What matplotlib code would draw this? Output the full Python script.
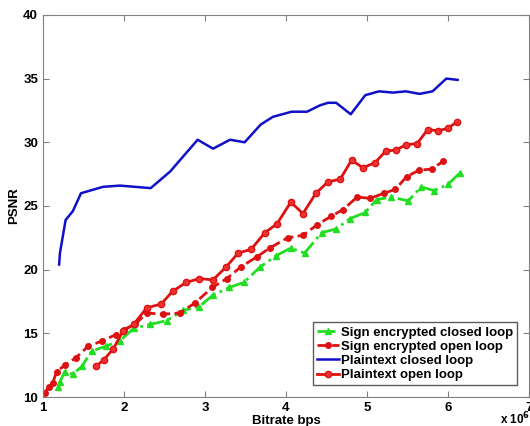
import numpy as np
from matplotlib import pyplot as plt

plt.rcParams['font.family'] = ['Liberation Sans', 'DejaVu Sans']
plt.rcParams['font.weight'] = 'bold'

# bitrate in units of 1e6 bps, PSNR in dB
enc_closed_x = [1.19, 1.21, 1.27, 1.37, 1.48, 1.60, 1.78, 1.95, 2.12, 2.32, 2.53, 2.73, 2.93, 3.10, 3.30,
                3.48, 3.68, 3.88, 4.06, 4.23, 4.44, 4.62, 4.79, 4.98, 5.12, 5.30, 5.51, 5.67, 5.83, 6.00, 6.15]
enc_closed_y = [10.8, 11.2, 12.0, 11.8, 12.4, 13.6, 14.0, 14.4, 15.4, 15.7, 16.0, 16.8, 17.1, 18.0, 18.6,
                19.0, 20.2, 21.1, 21.7, 21.3, 22.9, 23.2, 24.0, 24.5, 25.5, 25.7, 25.4, 26.5, 26.2, 26.7, 27.6]

enc_open_x = [1.02, 1.07, 1.12, 1.17, 1.27, 1.41, 1.56, 1.73, 1.90, 2.00, 2.14, 2.28, 2.48, 2.69, 2.88, 3.09,
              3.27, 3.44, 3.64, 3.80, 4.02, 4.21, 4.38, 4.56, 4.70, 4.88, 5.04, 5.21, 5.35, 5.49, 5.64, 5.80, 5.94]
enc_open_y = [10.3, 10.8, 11.1, 12.0, 12.5, 13.1, 14.0, 14.4, 14.9, 15.3, 15.7, 16.6, 16.5, 16.6, 17.4, 18.6,
              19.3, 20.2, 21.0, 21.7, 22.5, 22.7, 23.5, 24.2, 24.7, 25.7, 25.6, 26.0, 26.3, 27.3, 27.8, 27.9, 28.5]

plain_closed_x = [1.20, 1.21, 1.28, 1.37, 1.47, 1.74, 1.95, 2.33, 2.57, 2.91, 3.10, 3.31, 3.49, 3.69, 3.84,
                  4.07, 4.26, 4.42, 4.52, 4.62, 4.80, 4.98, 5.15, 5.32, 5.48, 5.65, 5.81, 5.98, 6.12]
plain_closed_y = [20.4, 21.3, 23.9, 24.6, 26.0, 26.5, 26.6, 26.4, 27.7, 30.2, 29.5, 30.2, 30.0, 31.4, 32.0,
                  32.4, 32.4, 32.9, 33.1, 33.1, 32.2, 33.7, 34.0, 33.9, 34.0, 33.8, 34.0, 35.0, 34.9]

plain_open_x = [1.65, 1.75, 1.87, 1.99, 2.12, 2.28, 2.46, 2.60, 2.77, 2.93, 3.10, 3.26, 3.41, 3.57, 3.74, 3.89,
                4.06, 4.21, 4.37, 4.52, 4.67, 4.81, 4.95, 5.10, 5.23, 5.36, 5.48, 5.62, 5.75, 5.88, 6.00, 6.11]
plain_open_y = [12.4, 12.9, 13.8, 15.2, 15.7, 17.0, 17.3, 18.3, 19.0, 19.3, 19.2, 20.2, 21.3, 21.6, 22.9, 23.6,
                25.3, 24.4, 26.0, 26.9, 27.1, 28.6, 28.0, 28.4, 29.3, 29.4, 29.8, 29.9, 31.0, 30.9, 31.1, 31.6]

fig = plt.figure(figsize=(5.3, 4.26), dpi=100)
ax = fig.add_axes([0.081, 0.068, 0.917, 0.897])

ax.plot(enc_closed_x, enc_closed_y, '-.', color='#22dd22', lw=2, marker='^', ms=4,
        label='Sign encrypted closed loop')
ax.plot(enc_open_x, enc_open_y, '--', color='#dd1111', lw=2, marker='o', ms=4,
        label='Sign encrypted open loop')
ax.plot(plain_closed_x, plain_closed_y, '-', color='#1010c8', lw=1.8, label='Plaintext closed loop')
ax.plot(plain_open_x, plain_open_y, '-', color='#dd1111', lw=2, marker='o', ms=4.5,
        mfc='#ee3333', label='Plaintext open loop')

ax.set_xlim(1, 7)
ax.set_ylim(10, 40)
ax.set_xticks(range(1, 8))
ax.set_yticks(range(10, 41, 5))
ax.tick_params(direction='in', top=True, right=True, labelsize=9.5, length=4, color='#808080')
for s in ax.spines.values():
    s.set_color('#808080')

ax.set_xlabel('Bitrate bps', fontsize=9.5, fontweight='bold', labelpad=1)
ax.set_ylabel('PSNR', fontsize=9.5, fontweight='bold', labelpad=2)
ax.text(0.94, -0.072, r'x 10$^{6}$', transform=ax.transAxes, fontsize=8.5, fontweight='bold')

leg = ax.legend(loc='lower right', bbox_to_anchor=(0.976, 0.031), fontsize=9.5, frameon=True,
                fancybox=False, handlelength=1.6, handletextpad=0.2, borderpad=0.3,
                labelspacing=0.15, borderaxespad=0)
leg.get_frame().set_edgecolor('#333333')
leg.get_frame().set_linewidth(1)

plt.savefig('out.png')
